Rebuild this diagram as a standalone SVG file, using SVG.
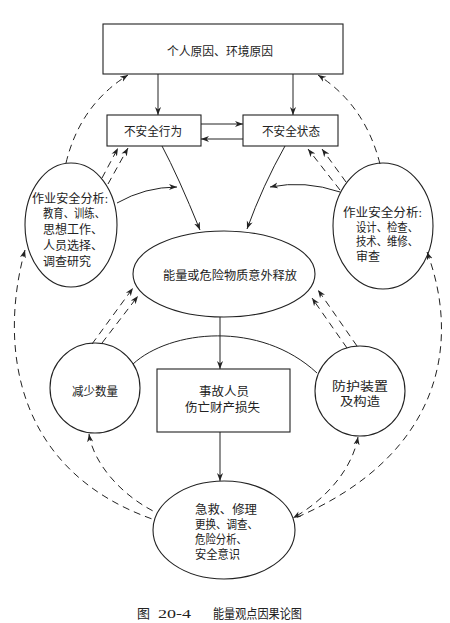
<svg xmlns="http://www.w3.org/2000/svg" width="450" height="623" viewBox="0 0 450 623">
<defs>
<marker id="ah" viewBox="0 0 10 10" refX="10" refY="5" markerWidth="8" markerHeight="8" markerUnits="userSpaceOnUse" orient="auto-start-reverse">
<path d="M0,1.2 L10,5 L0,8.8 L3,5 z" fill="#222"/>
</marker>
</defs>
<style>
.shape{fill:none;stroke:#222;stroke-width:1.1}
.ln{fill:none;stroke:#222;stroke-width:1}
.ds{fill:none;stroke:#222;stroke-width:1;stroke-dasharray:7 5}
.end{marker-end:url(#ah)}
.start{marker-start:url(#ah)}
text{font-family:"Liberation Serif","Noto Sans CJK SC",serif;font-size:12px;fill:#222}
.c{text-anchor:middle}
</style>
<rect width="450" height="623" fill="#fff"/>

<g id="connectors">
<path class="ln end" d="M158 74 V115"/>
<path class="ln end" d="M293 74 V115"/>
<path class="ln end" d="M201 124 H243"/>
<path class="ln end" d="M243 139 H201"/>
<path class="ln end" d="M162 146 Q178 176 200 230"/>
<path class="ln end" d="M285 146 Q263 185 247 229"/>
<path class="ln end" d="M117 203 Q145 187 177 187"/>
<path class="ln end" d="M340 192 Q305 180 270 187"/>
<path class="ln end" d="M220 317 V369"/>
<path class="ln end" d="M220 432 V481"/>
<path class="ln" d="M133 364 C170 330 260 320 317 373"/>

<path class="ds end" d="M66 163 Q80 105 128 75"/>
<path class="ds end" d="M380 164 Q365 105 318 75"/>
<path class="ds end" d="M102 178 L118 148"/>
<path class="ds end" d="M108 184 L128 148"/>
<path class="ds end" d="M340 190 L308 149"/>
<path class="ds end" d="M346 182 L322 149"/>
<path class="ds end" d="M92 344 L133 288"/>
<path class="ds end" d="M102 343 L138 296"/>
<path class="ds end" d="M357 346 L318 290"/>
<path class="ds end" d="M347 348 L312 298"/>
<path class="ds start" d="M25 250 C0 340 10 470 155 520"/>
<path class="ds start" d="M89 434 C93 462 120 495 157 513"/>
<path class="ds start" d="M427 252 C460 340 445 455 293 519"/>
<path class="ds start end" d="M358 437 C352 470 325 500 293 518"/>
</g>

<g id="node-top">
<rect class="shape" x="103" y="24" width="240" height="50"/>
<text class="c" x="220" y="55.5" textLength="106" lengthAdjust="spacingAndGlyphs">个人原因、环境原因</text>
</g>

<g id="node-unsafe-act">
<rect class="shape" x="107" y="115" width="94" height="31"/>
<text class="c" x="153" y="135.5" textLength="58" lengthAdjust="spacingAndGlyphs">不安全行为</text>
</g>

<g id="node-unsafe-state">
<rect class="shape" x="243" y="115" width="95" height="31"/>
<text class="c" x="291" y="135.5" textLength="58" lengthAdjust="spacingAndGlyphs">不安全状态</text>
</g>

<g id="node-left-analysis">
<ellipse class="shape" cx="71" cy="225" rx="46" ry="62"/>
<text x="32" y="203" textLength="76" lengthAdjust="spacingAndGlyphs">作业安全分析:</text>
<text x="43" y="218" textLength="62" lengthAdjust="spacingAndGlyphs">教育、训练、</text>
<text x="43" y="234" textLength="60" lengthAdjust="spacingAndGlyphs">思想工作、</text>
<text x="43" y="250" textLength="60" lengthAdjust="spacingAndGlyphs">人员选择、</text>
<text x="43" y="266" textLength="48" lengthAdjust="spacingAndGlyphs">调查研究</text>
</g>

<g id="node-right-analysis">
<ellipse class="shape" cx="383" cy="226" rx="50" ry="63"/>
<text x="343" y="216.5" textLength="79" lengthAdjust="spacingAndGlyphs">作业安全分析:</text>
<text x="356" y="231.5" textLength="62" lengthAdjust="spacingAndGlyphs">设计、检查、</text>
<text x="356" y="245.5" textLength="62" lengthAdjust="spacingAndGlyphs">技术、维修、</text>
<text x="356" y="260.5">审查</text>
</g>

<g id="node-release">
<ellipse class="shape" cx="224" cy="274" rx="91" ry="43"/>
<text class="c" x="230" y="279.5" textLength="134" lengthAdjust="spacingAndGlyphs">能量或危险物质意外释放</text>
</g>

<g id="node-reduce">
<circle class="shape" cx="95" cy="388" r="45"/>
<text class="c" x="95" y="396" textLength="46" lengthAdjust="spacingAndGlyphs">减少数量</text>
</g>

<g id="node-accident">
<rect class="shape" x="157" y="369" width="133" height="63"/>
<text class="c" x="224" y="396" textLength="50" lengthAdjust="spacingAndGlyphs">事故人员</text>
<text class="c" x="222.5" y="412" textLength="75" lengthAdjust="spacingAndGlyphs">伤亡财产损失</text>
</g>

<g id="node-protect">
<circle class="shape" cx="360" cy="391" r="45"/>
<text class="c" x="360" y="391" textLength="56" lengthAdjust="spacingAndGlyphs">防护装置</text>
<text class="c" x="360" y="406" textLength="40" lengthAdjust="spacingAndGlyphs">及构造</text>
</g>

<g id="node-rescue">
<ellipse class="shape" cx="224" cy="530" rx="71" ry="49"/>
<text x="195" y="514" textLength="62" lengthAdjust="spacingAndGlyphs">急救、修理</text>
<text x="195" y="529" textLength="63" lengthAdjust="spacingAndGlyphs">更换、调查、</text>
<text x="195" y="544" textLength="52" lengthAdjust="spacingAndGlyphs">危险分析、</text>
<text x="195" y="559" textLength="45" lengthAdjust="spacingAndGlyphs">安全意识</text>
</g>

<g id="caption">
<text x="137" y="618" style="font-size:13px">图 <tspan x="158" textLength="33" lengthAdjust="spacingAndGlyphs">20-4</tspan> <tspan x="213" textLength="89" lengthAdjust="spacingAndGlyphs">能量观点因果论图</tspan></text>
</g>
</svg>
